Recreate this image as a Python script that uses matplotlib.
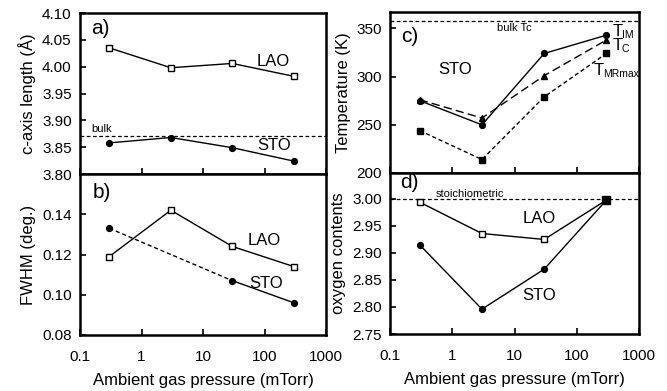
import numpy as np
import matplotlib
matplotlib.use("Agg")
import matplotlib.pyplot as plt

plt.rcParams['font.family'] = ['Liberation Sans', 'DejaVu Sans']

# pressures (mTorr)
p = [0.3, 3, 30, 300]

# a) c-axis length
c_lao = [4.035, 3.998, 4.006, 3.982]
c_sto = [3.858, 3.868, 3.849, 3.824]
c_bulk = 3.871

# b) FWHM
p_sto_fwhm = [0.3, 30, 300]
fwhm_lao = [0.119, 0.142, 0.124, 0.114]
fwhm_sto = [0.133, 0.107, 0.096]

# c) temperatures
t_im = [275, 250, 324, 343]
t_c = [276, 257, 301, 338]
t_mr = [244, 214, 279, 324]
tc_bulk = 358

# d) oxygen contents
o_lao = [2.994, 2.936, 2.925, 2.998]
o_sto = [2.915, 2.796, 2.870, 2.998]
o_stoich = 3.0

W, H = 667, 391
fig = plt.figure(figsize=(W/100, H/100), dpi=100)

def mk(x0, y0, x1, y1):
    return fig.add_axes([x0/W, 1 - y1/H, (x1-x0)/W, (y1-y0)/H])

axa = mk(80, 13, 326, 174)
axb = mk(80, 174, 326, 335)
axc = mk(390, 12, 639, 173)
axd = mk(390, 173, 639, 334)

for ax in (axa, axb, axc, axd):
    ax.set_xscale('log')
    ax.set_xlim(0.1, 1000)
    ax.set_xticks([0.1, 1, 10, 100, 1000])
    ax.set_xticklabels(['0.1', '1', '10', '100', '1000'])
    ax.xaxis.set_minor_locator(matplotlib.ticker.NullLocator())
    ax.tick_params(direction='in', length=4, width=1.2, labelsize=11, pad=6)
    ax.tick_params(axis='x', pad=11)
    for s in ax.spines.values():
        s.set_linewidth(1.8)

for ax in (axa, axc):
    ax.tick_params(labelbottom=False)

lw = 1.0
ms = 4.2

def tlabel(ax, x, y, sub):
    # T with small-caps style subscript
    ax.text(x, y, 'T', fontsize=12, va='center')
    ax.annotate(sub, (x, y), xytext=(6.5, -2.5), textcoords='offset points',
                fontsize=7.5, va='center')

# a)
axa.plot(p, c_lao, '-', color='k', lw=lw, marker='s', mfc='white', ms=ms, mew=1)
axa.plot(p, c_sto, '-', color='k', lw=lw, marker='o', ms=ms)
axa.axhline(c_bulk, color='k', ls='--', lw=0.9, dashes=(3, 2))
axa.set_ylim(3.80, 4.10)
axa.set_yticks(np.arange(3.80, 4.101, 0.05))
axa.set_yticklabels(['3.80', '3.85', '3.90', '3.95', '4.00', '4.05', '4.10'])
axa.set_ylabel('c-axis length (Å)', fontsize=12)
axa.text(0.15, 4.072, 'a)', fontsize=15, va='center')
axa.text(140, 4.010, 'LAO', fontsize=12, ha='center', va='center')
axa.text(145, 3.854, 'STO', fontsize=12, ha='center', va='center')
axa.text(0.15, 3.884, 'bulk', fontsize=8, va='center')

# b)
axb.plot(p, fwhm_lao, '-', color='k', lw=lw, marker='s', mfc='white', ms=ms, mew=1)
axb.plot(p_sto_fwhm[:2], fwhm_sto[:2], '--', color='k', lw=lw, dashes=(3, 2))
axb.plot(p_sto_fwhm[1:], fwhm_sto[1:], '-', color='k', lw=lw)
axb.plot(p_sto_fwhm, fwhm_sto, 'o', color='k', ms=ms)
axb.set_ylim(0.08, 0.16)
axb.set_yticks([0.08, 0.10, 0.12, 0.14])
axb.set_yticklabels(['0.08', '0.10', '0.12', '0.14'])
axb.set_ylabel('FWHM (deg.)', fontsize=12)
axb.set_xlabel('Ambient gas pressure (mTorr)', fontsize=12, labelpad=6)
axb.text(0.16, 0.151, 'b)', fontsize=15, va='center')
axb.text(100, 0.127, 'LAO', fontsize=12, ha='center', va='center')
axb.text(105, 0.1055, 'STO', fontsize=12, ha='center', va='center')

# c)
axc.plot(p, t_im, '-', color='k', lw=lw, marker='o', ms=ms)
axc.plot(p, t_c, '--', color='k', lw=lw, dashes=(6, 3), marker='^', ms=ms)
axc.plot(p, t_mr, '--', color='k', lw=lw, dashes=(3, 2), marker='s', ms=ms)
axc.axhline(tc_bulk, color='k', ls='--', lw=0.9, dashes=(3, 2))
axc.set_ylim(200, 367)
axc.set_yticks([200, 250, 300, 350])
axc.set_ylabel('Temperature (K)', fontsize=12)
axc.text(0.15, 342, 'c)', fontsize=15, va='center')
axc.text(10, 350, 'bulk Tc', fontsize=8, ha='center', va='center')
axc.text(1.13, 307, 'STO', fontsize=12, ha='center', va='center')
tlabel(axc, 380, 347, 'IM')
tlabel(axc, 380, 332, 'C')
tlabel(axc, 190, 306, 'MRmax')

# d)
axd.plot(p, o_lao, '-', color='k', lw=lw, marker='s', mfc='white', ms=ms, mew=1)
axd.plot(p, o_sto, '-', color='k', lw=lw, marker='o', ms=ms)
axd.plot(p[-1:], o_sto[-1:], 's', color='k', ms=ms + 1)
axd.axhline(o_stoich, color='k', ls='--', lw=0.9, dashes=(3, 2))
axd.set_ylim(2.75, 3.048)
axd.set_yticks([2.75, 2.80, 2.85, 2.90, 2.95, 3.00])
axd.set_yticklabels(['2.75', '2.80', '2.85', '2.90', '2.95', '3.00'])
axd.set_ylabel('oxygen contents', fontsize=12)
axd.set_xlabel('Ambient gas pressure (mTorr)', fontsize=12, labelpad=6)
axd.text(0.145, 3.03, 'd)', fontsize=15, va='center')
axd.text(0.55, 3.01, 'stoichiometric', fontsize=8, va='center')
axd.text(25, 2.963, 'LAO', fontsize=12, ha='center', va='center')
axd.text(25, 2.821, 'STO', fontsize=12, ha='center', va='center')

fig.savefig('out.png', dpi=100)
